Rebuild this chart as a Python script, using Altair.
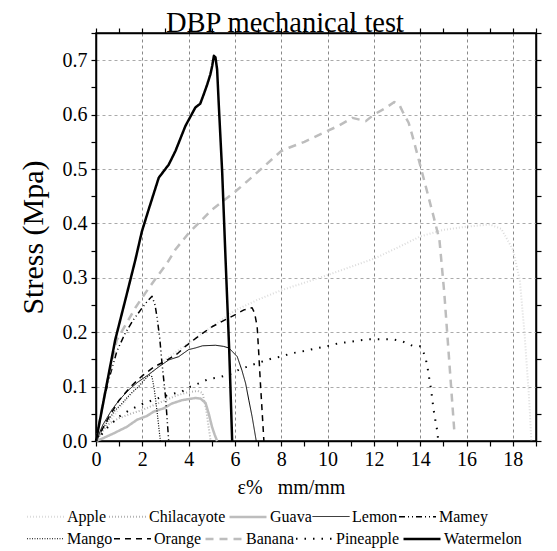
import altair as alt
import pandas as pd

series_names = ["Apple", "Chilacayote", "Guava", "Lemon", "Mamey",
                "Mango", "Orange", "Banana", "Pineapple", "Watermelon"]
row1_names = series_names[:5]
row2_names = series_names[5:]

apple_x = [0, 1, 2, 3, 4, 5, 6, 7, 8, 10, 12, 13, 14, 15, 16, 17, 17.5, 18, 18.3, 18.5, 18.7, 18.8]
apple_y = [0, 0.06, 0.11, 0.15, 0.18, 0.21, 0.24, 0.26, 0.277, 0.305, 0.335, 0.355, 0.376, 0.388, 0.394, 0.398, 0.39, 0.352, 0.296, 0.2, 0.08, 0]

chilacayote_x = [0, 0.3, 0.6, 1.0, 1.5, 2.0, 2.5, 3.0, 3.5, 4.0, 4.4, 4.6, 4.75, 4.85, 4.95]
chilacayote_y = [0, 0.02, 0.033, 0.042, 0.05, 0.057, 0.066, 0.075, 0.084, 0.09, 0.092, 0.088, 0.06, 0.03, 0]

guava_x = [0, 0.3, 0.76, 1.33, 1.77, 2.2, 2.49, 2.92, 3.28, 3.71, 4.0, 4.29, 4.51, 4.73, 4.87, 5.01, 5.12, 5.23]
guava_y = [0, 0.005, 0.014, 0.026, 0.039, 0.046, 0.054, 0.06, 0.069, 0.075, 0.077, 0.079, 0.078, 0.07, 0.05, 0.026, 0.012, 0]

lemon_x = [0, 0.3, 0.68, 1.0, 1.41, 1.8, 2.27, 2.7, 3.14, 3.57, 4.0, 4.29, 4.6, 5.16, 5.5, 5.74, 6.1, 6.3, 6.46, 6.6, 6.74, 6.92]
lemon_y = [0, 0.03, 0.057, 0.075, 0.094, 0.108, 0.122, 0.136, 0.149, 0.155, 0.168, 0.171, 0.175, 0.176, 0.174, 0.171, 0.155, 0.13, 0.106, 0.075, 0.045, 0]

mamey_x = [0, 0.3, 0.6, 0.9, 1.26, 1.6, 1.98, 2.2, 2.42, 2.55, 2.63, 2.75, 2.85, 3.0, 3.14]
mamey_y = [0, 0.07, 0.12, 0.165, 0.198, 0.222, 0.244, 0.256, 0.266, 0.25, 0.229, 0.19, 0.143, 0.082, 0]

mango_x = [0, 0.4, 0.8, 1.12, 1.5, 1.84, 2.1, 2.3, 2.42, 2.52, 2.63, 2.7, 2.78]
mango_y = [0, 0.03, 0.055, 0.069, 0.087, 0.1, 0.113, 0.121, 0.118, 0.094, 0.057, 0.03, 0]

orange_x = [0, 0.5, 1.0, 1.5, 2.0, 2.5, 3.0, 3.5, 3.86, 4.5, 5.01, 5.59, 6.0, 6.39, 6.74, 6.85, 6.96, 7.03, 7.1, 7.18, 7.25]
orange_y = [0, 0.04, 0.075, 0.1, 0.12, 0.136, 0.147, 0.16, 0.174, 0.195, 0.21, 0.223, 0.232, 0.241, 0.245, 0.235, 0.21, 0.16, 0.106, 0.05, 0]

banana_x = [0, 0.3, 0.6, 0.9, 1.3, 1.7, 2.13, 2.6, 3.07, 3.43, 4.0, 5.0, 6.03, 6.6, 7.18, 8.0, 8.33, 9.0, 10.0, 10.5,
            11.07, 11.65, 12.0, 12.5, 12.88, 13.1, 13.27, 13.5, 13.67, 14.03, 14.54, 14.83, 15.04, 15.26, 15.48]
banana_y = [0, 0.07, 0.13, 0.186, 0.215, 0.245, 0.272, 0.3, 0.327, 0.352, 0.382, 0.425, 0.459, 0.48, 0.502, 0.533, 0.539, 0.55, 0.57, 0.58,
            0.594, 0.588, 0.6, 0.612, 0.623, 0.618, 0.603, 0.585, 0.56, 0.502, 0.419, 0.37, 0.272, 0.143, 0.014]

pineapple_x = [0, 0.5, 1.0, 1.5, 2.0, 2.5, 3.0, 3.71, 4.08, 4.44, 4.87, 5.3, 5.74, 6.17, 6.74, 7.18, 7.61, 8.0, 8.41, 8.84,
               9.27, 10.06, 10.5, 10.93, 11.36, 11.8, 12.23, 12.8, 13.24, 13.67, 14.03, 14.22, 14.32, 14.39, 14.47, 14.58, 14.65, 14.73, 14.78]
pineapple_y = [0, 0.025, 0.045, 0.058, 0.068, 0.076, 0.083, 0.091, 0.1, 0.106, 0.114, 0.117, 0.122, 0.131, 0.14, 0.146, 0.152, 0.155, 0.161, 0.164,
               0.168, 0.175, 0.18, 0.182, 0.185, 0.187, 0.187, 0.187, 0.183, 0.175, 0.174, 0.155, 0.134, 0.115, 0.094, 0.057, 0.039, 0.02, 0]

watermelon_x = [0, 0.4, 0.83, 1.3, 1.7, 1.98, 2.27, 2.71, 3.14, 3.43, 3.86, 4.29, 4.5, 4.65, 4.8, 4.94, 5.02, 5.09, 5.16, 5.23, 5.3, 5.45, 5.59, 5.75, 5.88]
watermelon_y = [0, 0.09, 0.186, 0.265, 0.333, 0.385, 0.425, 0.484, 0.508, 0.533, 0.579, 0.613, 0.62, 0.637, 0.655, 0.674, 0.69, 0.708, 0.705, 0.683, 0.62, 0.493, 0.339, 0.17, 0]

xs = [apple_x, chilacayote_x, guava_x, lemon_x, mamey_x, mango_x, orange_x, banana_x, pineapple_x, watermelon_x]
ys = [apple_y, chilacayote_y, guava_y, lemon_y, mamey_y, mango_y, orange_y, banana_y, pineapple_y, watermelon_y]

rows = []
for name, sx, sy in zip(series_names, xs, ys):
    for i, (a, b) in enumerate(zip(sx, sy)):
        rows.append({"series": name, "x": a, "y": b, "order": i})
df = pd.DataFrame(rows)

colors = ["#dcdcdc", "#b4b4b4", "#bdbdbd", "#000000", "#000000",
          "#000000", "#000000", "#bdbdbd", "#000000", "#000000"]
dashes = [[1, 2], [1, 2], [1, 0], [1, 0], [6, 3, 1, 3, 1, 3],
          [1, 1.5], [6, 5], [8, 6], [1.5, 7], [1, 0]]
widths = [2, 2, 2.5, 1, 1.5, 1.2, 1.5, 2.5, 2, 2.5]

FONT = "Liberation Serif"
x_ticks = list(range(0, 20))
y_ticks = [round(i * 0.05, 2) for i in range(0, 16)]

grid_x = {"condition": {"test": "datum.value % 2 == 0", "value": 1}, "value": 0}
grid_y = {"condition": {"test": "round(datum.value * 100) % 10 == 0", "value": 1}, "value": 0}

x_scale = alt.Scale(domain=[0, 19], nice=False, zero=False)
y_scale = alt.Scale(domain=[0, 0.75], nice=False, zero=False)

x_axis = alt.Axis(
    values=x_ticks, labelExpr="datum.value % 2 == 0 ? datum.label : ''",
    title="ε%\u00a0\u00a0\u00a0mm/mm", titleFont=FONT, titleFontSize=20, titleFontWeight="normal",
    titleX=195, titleY=52, titleBaseline="alphabetic", titleAnchor="middle",
    labelFont=FONT, labelFontSize=20, labelColor="black", labelPadding=3, labelFlush=False,
    tickColor="black", tickSize=5, tickWidth=1.2,
    domainColor="black", domainWidth=1.5,
    grid=True, gridColor="#888888", gridDash=[3, 3], gridWidth=1, gridOpacity=grid_x)
y_axis = alt.Axis(
    values=y_ticks, labelExpr="round(datum.value * 100) % 10 == 0 ? format(datum.value, '.1f') : ''",
    title="Stress (Mpa)", titleFont=FONT, titleFontSize=30, titleFontWeight="normal",
    titlePadding=14,
    labelFont=FONT, labelFontSize=20, labelColor="black", labelPadding=4, labelFlush=False,
    tickColor="black", tickSize=5, tickWidth=1.2,
    domainColor="black", domainWidth=1.5,
    grid=True, gridColor="#aaaaaa", gridDash=[3, 3], gridWidth=1, gridOpacity=grid_y)


def line_layer(names, legend_y, with_axes):
    idx = [series_names.index(n) for n in names]
    leg = alt.Legend(title=None, orient="none", legendX=-70, legendY=legend_y,
                     direction="horizontal")
    sub = df[df["series"].isin(names)]
    return alt.Chart(sub).mark_line(strokeCap="butt", strokeJoin="round").encode(
        x=alt.X("x:Q", scale=x_scale, axis=x_axis if with_axes else None),
        y=alt.Y("y:Q", scale=y_scale, axis=y_axis if with_axes else None),
        color=alt.Color("series:N", scale=alt.Scale(domain=names, range=[colors[i] for i in idx]),
                        legend=leg),
        strokeDash=alt.StrokeDash("series:N", scale=alt.Scale(domain=names, range=[dashes[i] for i in idx]),
                                  legend=leg),
        strokeWidth=alt.StrokeWidth("series:N", scale=alt.Scale(type="ordinal", domain=names,
                                                                range=[widths[i] for i in idx]),
                                    legend=leg),
        order="order:Q",
    )


lines1 = line_layer(row1_names, 464, True)
lines2 = line_layer(row2_names, 486, False)

frame = alt.Chart(df).mark_point(opacity=0).encode(
    x=alt.X("x:Q", scale=x_scale, axis=alt.Axis(
        orient="top", values=x_ticks, labels=False, title=None, grid=False,
        tickColor="black", tickSize=5, tickWidth=1.2, domainColor="black", domainWidth=1.5)),
    y=alt.Y("y:Q", scale=y_scale, axis=alt.Axis(
        orient="right", values=y_ticks, labels=False, title=None, grid=False,
        tickColor="black", tickSize=5, tickWidth=1.2, domainColor="black", domainWidth=1.5)),
)

chart = alt.layer(lines1, lines2, frame).resolve_axis(
    x="independent", y="independent"
).resolve_scale(
    color="independent", strokeDash="independent", strokeWidth="independent"
).properties(
    width=440, height=408,
    autosize=alt.AutoSizeParams(type="none"),
    padding={"left": 88, "top": 25, "right": 13, "bottom": 110},
    title=alt.Title("DBP mechanical test", font=FONT, fontSize=28.5, fontWeight="normal",
                    color="black", anchor="middle", dx=-31, offset=-10),
).configure_view(stroke="black", strokeWidth=1.5).configure_legend(
    symbolType="stroke", symbolSize=1369, labelFont=FONT, labelFontSize=16,
    labelColor="black", labelOffset=2, columnPadding=-2, rowPadding=0,
    symbolStrokeColor="black",
)

chart.save("out.html", embed_options={"renderer": "svg", "actions": False})
